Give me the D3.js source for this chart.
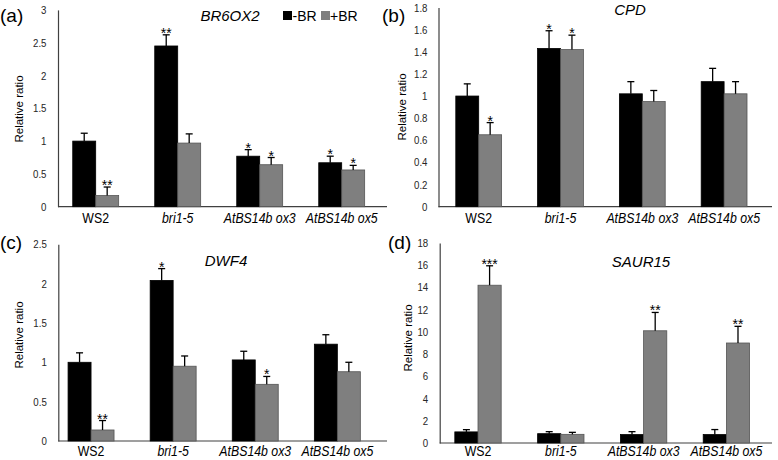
<!DOCTYPE html>
<html><head><meta charset="utf-8">
<script src="https://cdn.jsdelivr.net/npm/d3@7"></script>
<style>body{margin:0;background:#fff}svg{display:block}text{font-family:"Liberation Sans",Arial,sans-serif}</style>
</head><body>
<svg id="c" width="778" height="460"></svg>
<script>
const categories = ["WS2", "bri1-5", "AtBS14b ox3", "AtBS14b ox5"];
const seriesNames = ["-BR", "+BR"];

const genes = ["BR6OX2", "CPD", "DWF4", "SAUR15"];
const panelLetters = ["(a)", "(b)", "(c)", "(d)"];

// BR6OX2
const aMinus = [1.00, 2.45, 0.77, 0.67];
const aMinusErr = [0.12, 0.17, 0.10, 0.10];
const aPlus = [0.17, 0.97, 0.64, 0.56];
const aPlusErr = [0.13, 0.14, 0.11, 0.07];
const aSigMinus = ["", "**", "*", "*"];
const aSigPlus = ["**", "", "*", "*"];
const aTicks = ["0", "0.5", "1", "1.5", "2", "2.5", "3"];

// CPD
const bMinus = [1.00, 1.43, 1.02, 1.13];
const bMinusErr = [0.11, 0.16, 0.11, 0.12];
const bPlus = [0.65, 1.42, 0.95, 1.02];
const bPlusErr = [0.11, 0.13, 0.10, 0.11];
const bSigMinus = ["", "*", "", ""];
const bSigPlus = ["*", "*", "", ""];
const bTicks = ["0", "0.2", "0.4", "0.6", "0.8", "1", "1.2", "1.4", "1.6", "1.8"];

// DWF4
const cMinus = [1.00, 2.04, 1.03, 1.23];
const cMinusErr = [0.12, 0.15, 0.11, 0.12];
const cPlus = [0.14, 0.95, 0.72, 0.88];
const cPlusErr = [0.12, 0.13, 0.10, 0.12];
const cSigMinus = ["", "*", "", ""];
const cSigPlus = ["**", "", "*", ""];
const cTicks = ["0", "0.5", "1", "1.5", "2", "2.5"];

// SAUR15
const dMinus = [1.00, 0.84, 0.76, 0.76];
const dMinusErr = [0.20, 0.18, 0.26, 0.45];
const dPlus = [14.2, 0.78, 10.1, 9.0];
const dPlusErr = [1.75, 0.18, 1.65, 1.50];
const dSigMinus = ["", "", "", ""];
const dSigPlus = ["***", "", "**", "**"];
const dTicks = ["0", "2", "4", "6", "8", "10", "12", "14", "16", "18"];

const panelData = [
  {minus: aMinus, minusErr: aMinusErr, plus: aPlus, plusErr: aPlusErr, sigM: aSigMinus, sigP: aSigPlus, ticks: aTicks},
  {minus: bMinus, minusErr: bMinusErr, plus: bPlus, plusErr: bPlusErr, sigM: bSigMinus, sigP: bSigPlus, ticks: bTicks},
  {minus: cMinus, minusErr: cMinusErr, plus: cPlus, plusErr: cPlusErr, sigM: cSigMinus, sigP: cSigPlus, ticks: cTicks},
  {minus: dMinus, minusErr: dMinusErr, plus: dPlus, plusErr: dPlusErr, sigM: dSigMinus, sigP: dSigPlus, ticks: dTicks}
];

// layout
const layout = [
  {axisX: 58, x0: 54.7, step: 82, xEnd: 387, y0: 206.7, yTop: 9.9, pad: 11.5, letter: [0, 22], title: [230, 20.5], ytitle: [23, 109], xlab: 223.3},
  {axisX: 438.5, x0: 437.8, step: 81.8, xEnd: 772, y0: 206.7, yTop: 7.5, pad: 11, letter: [382, 22], title: [630, 14.5], ytitle: [406, 107], xlab: 223.3},
  {axisX: 58.3, x0: 50, step: 82.1, xEnd: 387, y0: 441, yTop: 244.2, pad: 11.5, letter: [0, 249], title: [226, 265.5], ytitle: [23, 335], xlab: 456},
  {axisX: 439.7, x0: 436.6, step: 82.8, xEnd: 772, y0: 443, yTop: 243, pad: 11.5, letter: [388, 249], title: [641, 266.5], ytitle: [411.5, 338], xlab: 456}
];

const squeeze = 0.88;
const colors = ["#000000", "#7f7f7f"];
const svg = d3.select("#c");

panelData.forEach((pd, i) => {
  const L = layout[i];
  const g = svg.append("g");
  const tickVals = pd.ticks.map(Number);
  const y = d3.scaleLinear().domain([0, d3.max(tickVals)]).range([L.y0, L.yTop]);
  const x = d3.scaleBand().domain(categories).range([L.x0, L.x0 + 4 * L.step]).paddingInner(0.44).paddingOuter(0.22);
  const xs = d3.scaleBand().domain(seriesNames).range([0, x.bandwidth()]);

  // y axis
  const yAxis = d3.axisLeft(y).tickValues(tickVals).tickSize(0).tickPadding(L.pad)
    .tickFormat((d, k) => pd.ticks[k]);
  const ya = g.append("g").attr("transform", `translate(${L.axisX},0)`).call(yAxis);
  ya.select(".domain").attr("stroke", "#404040").attr("stroke-width", 1.2);
  ya.selectAll("text").attr("font-size", 11).attr("fill", "#262626")
    .attr("x", -L.pad / squeeze).attr("transform", `scale(${squeeze},1)`);

  // x axis line
  g.append("line").attr("x1", L.axisX).attr("x2", L.xEnd).attr("y1", L.y0).attr("y2", L.y0)
    .attr("stroke", "#404040").attr("stroke-width", 1.2);

  const series = [
    {name: seriesNames[0], vals: pd.minus, errs: pd.minusErr, sig: pd.sigM, color: colors[0]},
    {name: seriesNames[1], vals: pd.plus, errs: pd.plusErr, sig: pd.sigP, color: colors[1]}
  ];
  series.forEach(s => {
    categories.forEach((c, k) => {
      const bx = x(c) + xs(s.name);
      const bw = xs.bandwidth();
      const v = s.vals[k], e = s.errs[k];
      g.append("rect").attr("x", bx).attr("y", y(v)).attr("width", bw).attr("height", L.y0 - y(v))
        .attr("fill", s.color).attr("stroke", s.color === "#000000" ? "#000" : "#555").attr("stroke-width", 0.8);
      const cx = bx + bw / 2;
      g.append("line").attr("x1", cx).attr("x2", cx).attr("y1", y(v)).attr("y2", y(v + e))
        .attr("stroke", "#000").attr("stroke-width", 1.3);
      g.append("line").attr("x1", cx - 3.5).attr("x2", cx + 3.5).attr("y1", y(v + e)).attr("y2", y(v + e))
        .attr("stroke", "#000").attr("stroke-width", 1.3);
      if (s.sig[k]) {
        g.append("text").attr("x", cx).attr("y", y(v + e) + 3).attr("text-anchor", "middle")
          .attr("font-size", 14).attr("fill", "#000").text(s.sig[k]);
      }
    });
  });

  // category labels
  categories.forEach((c, k) => {
    g.append("text").attr("transform", `translate(${x(c) + x.bandwidth() / 2},${L.xlab}) scale(${squeeze},1)`)
      .attr("text-anchor", "middle")
      .attr("font-size", 14).attr("font-style", k === 0 ? "normal" : "italic").attr("fill", "#000").text(c);
  });

  // y title
  g.append("text").attr("transform", `translate(${L.ytitle[0]},${L.ytitle[1]}) rotate(-90)`)
    .attr("text-anchor", "middle").attr("font-size", 11.5).attr("fill", "#000").text("Relative ratio");

  // gene title
  g.append("text").attr("x", L.title[0]).attr("y", L.title[1]).attr("text-anchor", "middle")
    .attr("font-size", 15).attr("font-style", "italic").attr("fill", "#000").text(genes[i]);

  // panel letter
  g.append("text").attr("x", L.letter[0]).attr("y", L.letter[1]).attr("font-size", 19).attr("fill", "#000").text(panelLetters[i]);
});

// legend (panel a)
const leg = svg.append("g");
const legPos = [[283, 292.5], [321, 330]];
seriesNames.forEach((n, k) => {
  leg.append("rect").attr("x", legPos[k][0]).attr("y", 11).attr("width", 9).attr("height", 9).attr("fill", colors[k]);
  leg.append("text").attr("x", legPos[k][1]).attr("y", 20.5).attr("font-size", 14).attr("fill", "#000").text(n);
});
</script>
</body></html>
